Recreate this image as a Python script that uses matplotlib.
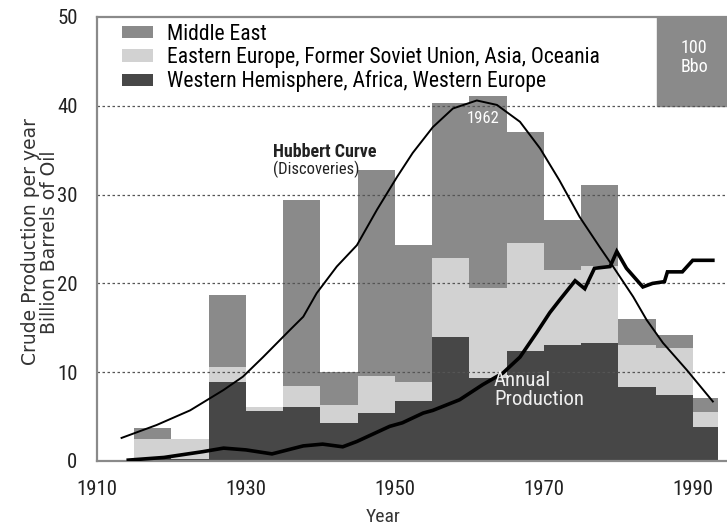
"""
Oil discoveries by region (5-year bins) with the Hubbert discovery curve
and annual crude production overlaid.
"""
import matplotlib
matplotlib.use("Agg")
import matplotlib.pyplot as plt
from matplotlib.patches import Rectangle

# 5-year discovery periods (the last one is partial)
period_start = [1915, 1920, 1925, 1930, 1935, 1940, 1945, 1950,
                1955, 1960, 1965, 1970, 1975, 1980, 1985, 1990]
period_len = [5, 5, 5, 5, 5, 5, 5, 5, 5, 5, 5, 5, 5, 5, 5, 3.4]

# Bbo per year discovered, by region
western = [0.3, 0.2, 8.9, 5.6, 6.1, 4.3, 5.4, 6.8,
           14.0, 9.3, 12.4, 13.1, 13.3, 8.3, 7.4, 3.8]
eastern = [2.2, 2.3, 1.7, 0.5, 2.3, 2.0, 4.2, 2.1,
           8.9, 10.2, 12.1, 8.4, 8.7, 4.8, 5.3, 1.7]
mideast = [1.2, 0.0, 8.1, 0.0, 21.0, 3.7, 23.2, 15.4,
           17.4, 21.6, 12.6, 5.6, 9.1, 2.9, 1.5, 1.6]

hubbert_year = [1913.3, 1918, 1922.5, 1927, 1929.6, 1932.3, 1935.9, 1937.7,
                1939.5, 1942.2, 1944.9, 1947.6, 1950.3, 1952.4, 1955.1,
                1957.8, 1961, 1963.7, 1966.8, 1969.5, 1972.1, 1974.8,
                1977.5, 1979.3, 1982, 1983.8, 1986, 1989.2, 1992.7]
hubbert_val = [2.6, 4.05, 5.7, 8.0, 9.5, 11.7, 14.75, 16.25,
               18.9, 21.9, 24.3, 28.3, 32.0, 34.7, 37.6,
               39.7, 40.6, 40.1, 38.2, 35.2, 31.6, 27.5,
               24.1, 21.9, 18.5, 15.9, 13.3, 10.25, 6.7]

prod_year = [1914.2, 1919, 1924.2, 1927, 1930, 1933.5, 1937.7, 1940.3,
             1943, 1944.9, 1949.3, 1951, 1953.8, 1955.1, 1958.7, 1961.8,
             1964.5, 1966.8, 1969, 1970.8, 1972.1, 1974.2, 1975.5, 1976.8,
             1978.9, 1979.8, 1981.1, 1983.3, 1984.6, 1986.2, 1986.6,
             1988.6, 1990, 1992.7]
prod_val = [0.1, 0.4, 1.05, 1.45, 1.25, 0.8, 1.7, 1.9,
            1.6, 2.2, 3.9, 4.3, 5.4, 5.7, 6.9, 8.6,
            9.9, 11.7, 14.4, 16.7, 18.1, 20.3, 19.4, 21.7,
            21.9, 23.6, 21.7, 19.6, 20.0, 20.2, 21.3,
            21.3, 22.6, 22.6]

C_ME = "#8a8a8a"
C_EE = "#d2d2d2"
C_WH = "#474747"
FONT = ["Liberation Sans Narrow", "Roboto Condensed", "DejaVu Sans"]

plt.rcParams["font.family"] = FONT

fig = plt.figure(figsize=(7.27, 5.29), dpi=100)
ax = fig.add_axes([97 / 727, 1 - 461 / 529, 1 - 97 / 727, (461 - 17) / 529])

bottom2 = [w + e for w, e in zip(western, eastern)]
ax.bar(period_start, western, width=period_len, align="edge", color=C_WH,
       label="Western Hemisphere, Africa, Western Europe", zorder=1)
ax.bar(period_start, eastern, width=period_len, bottom=western, align="edge",
       color=C_EE, label="Eastern Europe, Former Soviet Union, Asia, Oceania", zorder=1)
ax.bar(period_start, mideast, width=period_len, bottom=bottom2, align="edge",
       color=C_ME, label="Middle East", zorder=1)

# 100 Bbo scale box (10 years x 10 Bbo/yr)
ax.add_patch(Rectangle((1985.2, 40), 10, 10, color=C_ME, zorder=1))
ax.text(1990.2, 45.4, "100\nBbo", color="white", ha="center", va="center",
        fontsize=13, linespacing=1.05, zorder=5)

for yv in [10, 20, 30, 40]:
    ax.axhline(yv, color="#555555", lw=0.9, ls=(0, (2, 2)), zorder=2)

ax.plot(hubbert_year, hubbert_val, color="black", lw=1.4, zorder=3)
ax.plot(prod_year, prod_val, color="black", lw=2.6, zorder=4,
        solid_joinstyle="miter")

ax.text(1933.6, 34.8, "Hubbert Curve", fontsize=13, fontweight="bold",
        color="#222222", va="center", zorder=5)
ax.text(1933.6, 32.8, "(Discoveries)", fontsize=12, color="#222222",
        va="center", zorder=5)
ax.text(1961.8, 38.6, "1962", fontsize=12, color="white", ha="center",
        va="center", zorder=5)
ax.text(1963.3, 8.0, "Annual\nProduction", fontsize=15, color="#eeeeee",
        va="center", linespacing=1.05, zorder=5)

ax.set_xlim(1910, 1994.6)
ax.set_ylim(0, 50)
ax.set_xticks([1910, 1930, 1950, 1970, 1990])
ax.set_yticks([0, 10, 20, 30, 40, 50])
ax.tick_params(length=0, labelsize=15, colors="#222222")
ax.tick_params(axis="y", pad=14)
ax.tick_params(axis="x", pad=14)

for side in ["left", "bottom", "top"]:
    ax.spines[side].set_color("#8a8a8a")
    ax.spines[side].set_linewidth(1.6)
ax.spines["right"].set_visible(False)

fig.text(40 / 727, 1 - 242 / 529,
         "Crude Production per year\nBillion Barrels of Oil",
         family="DejaVu Sans", fontsize=13.5, color="#333333", rotation=90,
         ha="center", va="center", linespacing=0.95)
fig.text(383 / 727, 1 - 517 / 529, "Year", fontsize=14, color="#333333",
         ha="center", va="center")

handles, labels = ax.get_legend_handles_labels()
ax.legend(handles[::-1], labels[::-1], loc="upper left",
          bbox_to_anchor=(0.0397, 1 - 7 / 444), frameon=False, fontsize=15.5,
          handlelength=1.45, handleheight=0.5, handletextpad=0.65,
          labelspacing=0.1, borderaxespad=0, borderpad=0)

fig.savefig("out.png", dpi=100)
